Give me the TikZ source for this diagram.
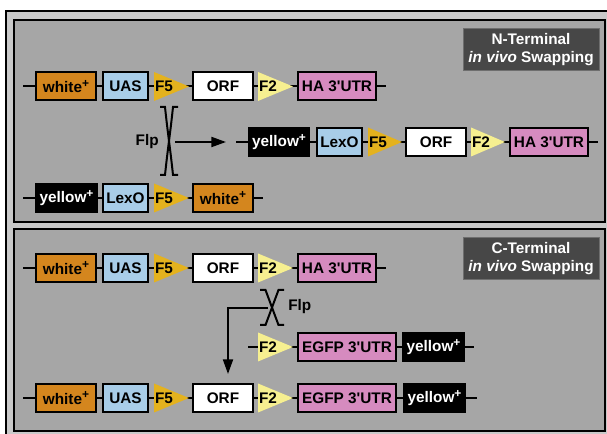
\documentclass[tikz,border=0pt]{standalone}
\usepackage{fontspec}
\setmainfont{Liberation Sans}[Ligatures=TeXOff]
\usetikzlibrary{arrows.meta}
\definecolor{panelgray}{HTML}{A6A6A6}
\definecolor{stripgray}{HTML}{C9C9C9}
\definecolor{orangeb}{HTML}{D4861E}
\definecolor{blueb}{HTML}{A8CDE8}
\definecolor{goldt}{HTML}{E4B21E}
\definecolor{yellt}{HTML}{F6EF90}
\definecolor{pinkb}{HTML}{D68BBF}
\definecolor{labelgray}{HTML}{474747}
\definecolor{labeledge}{HTML}{6E6E6E}

\newcommand\gbox[6][]{\node[gene,#1,minimum width={(#4-#3-2)*0.75pt}] (#2) at ({(#3+#4)/2},#5) {#6};}
\newcommand\tri[6]{\fill[#5] (#2,{#4-14.5}) -- (#2,{#4+14.5}) -- (#3,#4) -- cycle;
  \node[trilabel,anchor=west] (#1) at ({#2-0.5},#4) {#6};}
\newcommand\flpx[5]{%
  \draw[xline] ({#1-#4},#2) -- ({#1-#5},#2) .. controls ({#1-1},{#2+0.42*(#3-#2)}) and ({#1+1},{#3-0.42*(#3-#2)}) .. ({#1+#5},#3) -- ({#1+#4},#3);
  \draw[xline] ({#1+#4},#2) -- ({#1+#5},#2) .. controls ({#1+1},{#2+0.42*(#3-#2)}) and ({#1-1},{#3-0.42*(#3-#2)}) .. ({#1-#5},#3) -- ({#1-#4},#3);}
\newcommand\plussup{\raisebox{0.38em}{\fontsize{9}{9}\selectfont\bfseries+}}
\newcommand\wplus{white\plussup}
\newcommand\yplus{yellow\plussup}

\begin{document}
\begin{tikzpicture}[x=0.75pt,y=-0.75pt,
  txt/.style={font=\fontsize{11.5}{12.5}\selectfont\bfseries},
  gene/.style={txt,draw=black,line width=1.5pt,minimum height=21pt,inner sep=0pt},
  orangebox/.style={fill=orangeb},
  bluebox/.style={fill=blueb},
  whitebox/.style={fill=white},
  pinkbox/.style={fill=pinkb},
  blackbox/.style={fill=black,text=white},
  trilabel/.style={txt,inner sep=1pt},
  backbone/.style={line width=1.5pt},
  xline/.style={line width=1.5pt},
  arr/.style={line width=1.5pt,-{Triangle[length=11pt,width=7.5pt]}},
  tag/.style={fill=labelgray,draw=labeledge,line width=0.75pt,text=white,align=center,
    font=\fontsize{11.5}{13}\selectfont\bfseries,minimum width=102pt,minimum height=32pt,inner sep=0pt}]
\useasboundingbox (0,0) rectangle (607,434);
\clip (0,0) rectangle (607,434);
\fill[white] (0,0) rectangle (607,434);
\draw[line width=1.5pt,fill=stripgray] (6,11) rectangle (625,450);
\draw[line width=1.5pt,fill=panelgray] (14,20) rectangle (605,222);
\draw[line width=1.5pt,fill=panelgray] (14,229) rectangle (605,431);

% ---------- Panel 1: N-terminal ----------
\node[tag] (ntag) at (531,49.5) {N-Terminal\\\textit{in vivo} Swapping};

% row 1
\coordinate (r1s) at (23,86.5); \coordinate (r1e) at (386,86.5);
\draw[backbone] (r1s) -- (r1e);
\gbox[orangebox]{r1w}{35}{97}{86.5}{\wplus}
\gbox[bluebox]{r1u}{102}{149}{86.5}{UAS}
\tri{r1f5}{154}{189}{86.5}{goldt}{F5}
\gbox[whitebox]{r1o}{192}{254}{86.5}{ORF}
\tri{r1f2}{258}{293}{86.5}{yellt}{F2}
\gbox[pinkbox]{r1h}{297}{377}{86.5}{HA 3'UTR}

% row 2 (product)
\coordinate (r2s) at (236,142); \coordinate (r2e) at (598,142);
\draw[backbone] (r2s) -- (r2e);
\gbox[blackbox]{r2y}{248}{310}{142}{\yplus}
\gbox[bluebox]{r2l}{316}{363}{142}{LexO}
\tri{r2f5}{368}{402}{142}{goldt}{F5}
\gbox[whitebox]{r2o}{405}{467}{142}{ORF}
\tri{r2f2}{471}{505}{142}{yellt}{F2}
\gbox[pinkbox]{r2h}{509}{589}{142}{HA 3'UTR}

% row 3
\coordinate (r3s) at (23,198); \coordinate (r3e) at (263,198);
\draw[backbone] (r3s) -- (r3e);
\gbox[blackbox]{r3y}{35}{98}{198}{\yplus}
\gbox[bluebox]{r3l}{102}{149}{198}{LexO}
\tri{r3f5}{154}{189}{198}{goldt}{F5}
\gbox[orangebox]{r3w}{192}{254}{198}{\wplus}

% Flp crossing 1
\flpx{169}{107}{175}{9}{4}
\coordinate (x1) at (169,141);
\node[txt,anchor=east,inner sep=0pt] (flp1) at (159,142) {Flp};
\coordinate (a1s) at (175,142); \coordinate (a1t) at (226,142);
\draw[arr] (a1s) -- (a1t);

% ---------- Panel 2: C-terminal ----------
\node[tag] (ctag) at (531,258.5) {C-Terminal\\\textit{in vivo} Swapping};

% row A
\coordinate (rAs) at (23,268); \coordinate (rAe) at (386,268);
\draw[backbone] (rAs) -- (rAe);
\gbox[orangebox]{rAw}{35}{97}{268}{\wplus}
\gbox[bluebox]{rAu}{102}{149}{268}{UAS}
\tri{rAf5}{154}{189}{268}{goldt}{F5}
\gbox[whitebox]{rAo}{192}{254}{268}{ORF}
\tri{rAf2}{258}{293}{268}{yellt}{F2}
\gbox[pinkbox]{rAh}{297}{377}{268}{HA 3'UTR}

% row B
\coordinate (rBs) at (248,347); \coordinate (rBend) at (474,347);
\draw[backbone] (rBs) -- (rBend);
\tri{rBf2}{258}{293}{347}{yellt}{F2}
\gbox[pinkbox]{rBe}{297}{397}{347}{EGFP 3'UTR}
\gbox[blackbox]{rBy}{402}{465}{347}{\yplus}

% row C
\coordinate (rCs) at (23,398); \coordinate (rCend) at (477,398);
\draw[backbone] (rCs) -- (rCend);
\gbox[orangebox]{rCw}{35}{97}{398}{\wplus}
\gbox[bluebox]{rCu}{102}{149}{398}{UAS}
\tri{rCf5}{154}{189}{398}{goldt}{F5}
\gbox[whitebox]{rCo}{192}{254}{398}{ORF}
\tri{rCf2}{258}{293}{398}{yellt}{F2}
\gbox[pinkbox]{rCe}{297}{397}{398}{EGFP 3'UTR}
\gbox[blackbox]{rCy}{403}{466}{398}{\yplus}

% Flp crossing 2
\flpx{272}{290}{325}{12}{6.5}
\coordinate (x2w) at (268,308);
\node[txt,anchor=west,inner sep=0pt] (flp2) at (288,307) {Flp};
\coordinate (a2t) at (228,374);
\draw[arr] (x2w) -| (a2t);
\end{tikzpicture}
\end{document}
